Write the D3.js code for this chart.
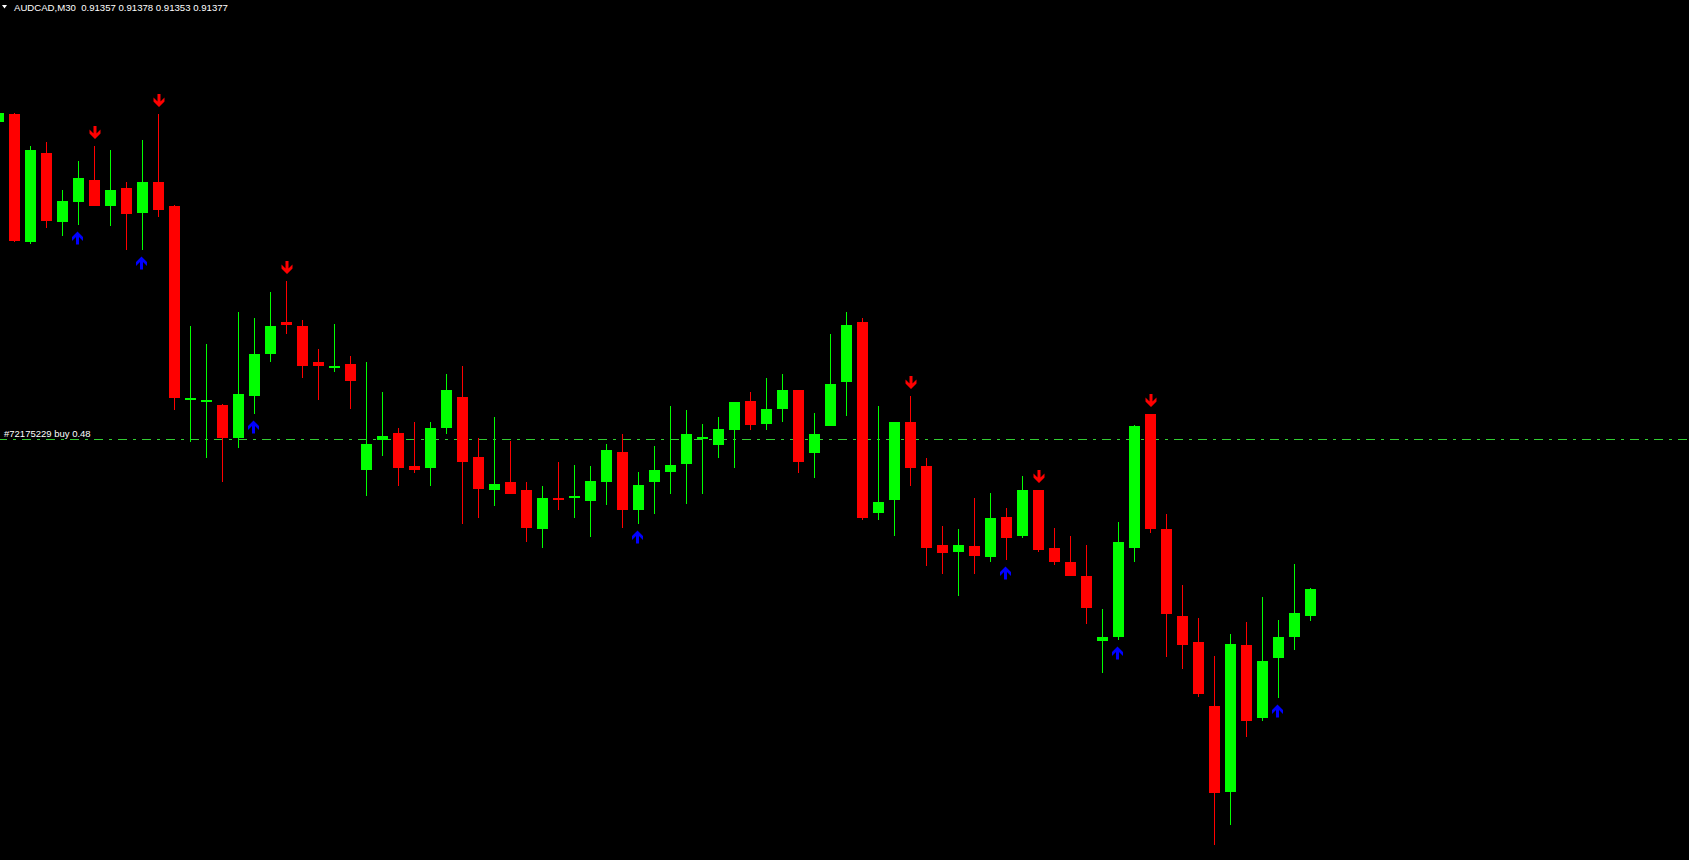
<!DOCTYPE html>
<html lang="en">
<head>
<meta charset="UTF-8">
<title>AUDCAD,M30</title>
<script src="https://d3js.org/d3.v7.min.js"></script>
<style>
  html, body { margin: 0; padding: 0; background: #000; overflow: hidden; }
  svg { display: block; }
</style>
</head>
<body>
<svg id="chart" width="1689" height="860"></svg>
<script>
// symbol info
const symbol = "AUDCAD";
const timeframe = "M30";
const orderLabel = "#72175229 buy 0.48";
const orderPrice = 0.91489;

// bar indices, -1 is the bar cut off at the left edge
const bars = d3.range(-1, 82);

const opens = [
  0.91727,
  0.91733, 0.91637, 0.91704, 0.91652, 0.91667, 0.91684, 0.91664, 0.91678, 0.91659, 0.91682,
  0.91664, 0.91519, 0.91518, 0.91515, 0.91490, 0.91522, 0.91553, 0.91577, 0.91574, 0.91547,
  0.91543, 0.91546, 0.91466, 0.91489, 0.91494, 0.91469, 0.91468, 0.91498, 0.91521, 0.91476,
  0.91451, 0.91457, 0.91451, 0.91422, 0.91445, 0.91445, 0.91443, 0.91457, 0.91480, 0.91436,
  0.91457, 0.91465, 0.91471, 0.91490, 0.91485, 0.91496, 0.91518, 0.91501, 0.91512, 0.91526,
  0.91479, 0.91499, 0.91532, 0.91577, 0.91434, 0.91444, 0.91502, 0.91469, 0.91410, 0.91405,
  0.91409, 0.91401, 0.91431, 0.91417, 0.91451, 0.91408, 0.91397, 0.91387, 0.91338, 0.91341,
  0.91408, 0.91508, 0.91422, 0.91357, 0.91337, 0.91289, 0.91225, 0.91335, 0.91280, 0.91325,
  0.91341, 0.91357
];
const highs = [
  0.91734,
  0.91734, 0.91709, 0.91712, 0.91676, 0.91698, 0.91709, 0.91706, 0.91682, 0.91714, 0.91733,
  0.91665, 0.91574, 0.91561, 0.91516, 0.91585, 0.91580, 0.91600, 0.91608, 0.91579, 0.91557,
  0.91576, 0.91552, 0.91547, 0.91525, 0.91498, 0.91502, 0.91502, 0.91538, 0.91544, 0.91490,
  0.91506, 0.91488, 0.91457, 0.91454, 0.91472, 0.91470, 0.91469, 0.91486, 0.91493, 0.91465,
  0.91484, 0.91514, 0.91511, 0.91501, 0.91506, 0.91517, 0.91525, 0.91535, 0.91538, 0.91526,
  0.91509, 0.91568, 0.91585, 0.91580, 0.91514, 0.91502, 0.91522, 0.91475, 0.91424, 0.91422,
  0.91445, 0.91449, 0.91438, 0.91462, 0.91451, 0.91423, 0.91417, 0.91410, 0.91362, 0.91427,
  0.91500, 0.91508, 0.91433, 0.91380, 0.91355, 0.91327, 0.91343, 0.91352, 0.91371, 0.91354,
  0.91396, 0.91378
];
const lows = [
  0.91727,
  0.91637, 0.91636, 0.91648, 0.91642, 0.91650, 0.91664, 0.91649, 0.91631, 0.91631, 0.91656,
  0.91511, 0.91487, 0.91475, 0.91457, 0.91483, 0.91508, 0.91547, 0.91568, 0.91535, 0.91519,
  0.91540, 0.91512, 0.91447, 0.91477, 0.91454, 0.91464, 0.91454, 0.91493, 0.91426, 0.91430,
  0.91439, 0.91448, 0.91412, 0.91408, 0.91436, 0.91430, 0.91416, 0.91440, 0.91423, 0.91426,
  0.91433, 0.91448, 0.91441, 0.91448, 0.91475, 0.91468, 0.91496, 0.91496, 0.91502, 0.91464,
  0.91460, 0.91499, 0.91507, 0.91429, 0.91429, 0.91417, 0.91454, 0.91394, 0.91388, 0.91372,
  0.91388, 0.91397, 0.91399, 0.91415, 0.91405, 0.91395, 0.91387, 0.91351, 0.91314, 0.91339,
  0.91397, 0.91419, 0.91326, 0.91317, 0.91296, 0.91185, 0.91200, 0.91266, 0.91278, 0.91295,
  0.91331, 0.91353
];
const closes = [
  0.91734,
  0.91638, 0.91706, 0.91653, 0.91668, 0.91685, 0.91664, 0.91676, 0.91658, 0.91682, 0.91661,
  0.91520, 0.91520, 0.91519, 0.91490, 0.91523, 0.91553, 0.91574, 0.91575, 0.91544, 0.91544,
  0.91544, 0.91533, 0.91486, 0.91492, 0.91468, 0.91466, 0.91498, 0.91526, 0.91472, 0.91452,
  0.91456, 0.91448, 0.91423, 0.91445, 0.91444, 0.91447, 0.91458, 0.91481, 0.91436, 0.91455,
  0.91466, 0.91470, 0.91493, 0.91491, 0.91497, 0.91517, 0.91500, 0.91512, 0.91526, 0.91472,
  0.91493, 0.91531, 0.91575, 0.91430, 0.91442, 0.91502, 0.91468, 0.91408, 0.91404, 0.91410,
  0.91402, 0.91430, 0.91415, 0.91451, 0.91406, 0.91397, 0.91387, 0.91363, 0.91341, 0.91412,
  0.91499, 0.91422, 0.91358, 0.91335, 0.91298, 0.91224, 0.91336, 0.91278, 0.91323, 0.91341,
  0.91359, 0.91377
];

// indicator signals (bar indices)
const upSignals = [4, 8, 15, 39, 62, 69, 79];
const downSignals = [5, 9, 17, 56, 64, 71];

const W = 1689, H = 860;
const bullColor = "#00ff00", bearColor = "#ff0000";

const data = bars.map((b, i) => ({
  bar: b, open: opens[i], high: highs[i], low: lows[i], close: closes[i]
}));

const xs = d3.scaleLinear().domain([-1, 81]).range([-1.5, 1310.5]);
const ys = d3.scaleLinear().domain([0.9117375, 0.9181875]).range([H, 0]);
const bodyW = 11;

const svg = d3.select("#chart");
svg.append("rect").attr("width", W).attr("height", H).attr("fill", "#000");

// order line (dash dot)
const oy = Math.floor(ys(orderPrice)) + 0.5;
svg.append("line")
  .attr("x1", 0).attr("x2", W)
  .attr("y1", oy).attr("y2", oy)
  .attr("stroke", "#32cd32")
  .attr("stroke-width", 1)
  .attr("stroke-dasharray", "9,6,3,6")
  .attr("stroke-dashoffset", 2);

svg.append("text")
  .attr("x", 4).attr("y", oy - 2.5)
  .attr("fill", "#ffffff")
  .style("font-family", "'Liberation Sans', Arial, sans-serif")
  .style("font-size", "9.5px")
  .text(orderLabel);

const g = svg.append("g");
const candles = g.selectAll("g.candle")
  .data(data)
  .enter()
  .append("g")
  .attr("class", "candle");

// wicks
candles.append("rect")
  .attr("x", d => xs(d.bar) - 0.5)
  .attr("width", 1)
  .attr("y", d => Math.round(ys(d.high)))
  .attr("height", d => Math.max(1, Math.round(ys(d.low)) - Math.round(ys(d.high))))
  .attr("fill", d => d.close > d.open ? bullColor : bearColor);

// bodies
candles.append("rect")
  .attr("x", d => xs(d.bar) - bodyW / 2)
  .attr("width", bodyW)
  .attr("y", d => Math.round(ys(Math.max(d.open, d.close))))
  .attr("height", d => Math.max(2, Math.round(ys(Math.min(d.open, d.close))) - Math.round(ys(Math.max(d.open, d.close)))))
  .attr("fill", d => d.close > d.open ? bullColor : bearColor);

// arrows, tip at 0,0 pointing up
const arrowPath = "M0,0 L5.5,5.5 L5.5,9.5 L1.5,5.5 L1.5,13 L-1.5,13 L-1.5,5.5 L-5.5,9.5 L-5.5,5.5 Z";
const byBar = new Map(data.map(d => [d.bar, d]));

g.selectAll("path.up")
  .data(upSignals)
  .enter()
  .append("path")
  .attr("class", "up")
  .attr("d", arrowPath)
  .attr("fill", "#0000ff")
  .attr("transform", b => "translate(" + (xs(b) - 1) + "," + (Math.round(ys(byBar.get(b).low)) + 6.5) + ")");

g.selectAll("path.down")
  .data(downSignals)
  .enter()
  .append("path")
  .attr("class", "down")
  .attr("d", arrowPath)
  .attr("fill", "#ff0000")
  .attr("transform", b => "translate(" + (xs(b) + 0.5) + "," + (Math.round(ys(byBar.get(b).high)) - 7) + ") scale(1,-1)");

// header
const last = data[data.length - 1];
const f5 = d3.format(".5f");
svg.append("path")
  .attr("d", "M2,5 L7,5 L4.5,8.5 Z")
  .attr("fill", "#ffffff");
svg.append("text")
  .attr("x", 14).attr("y", 11)
  .attr("fill", "#ffffff")
  .style("font-family", "'Liberation Sans', Arial, sans-serif")
  .style("font-size", "9.6px")
  .style("white-space", "pre")
  .text(symbol + "," + timeframe + "  " + [last.open, last.high, last.low, last.close].map(f5).join(" "));
</script>
</body>
</html>
